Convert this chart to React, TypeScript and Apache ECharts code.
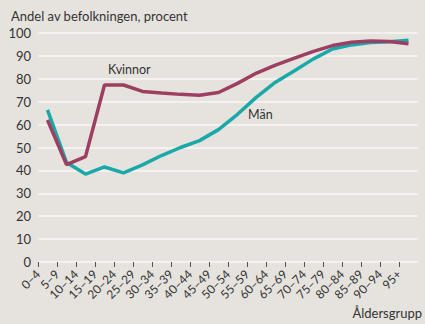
import React, { useEffect, useRef } from "react";
import * as echarts from "echarts";

const categories = ["0–4", "5–9", "10–14", "15–19", "20–24", "25–29", "30–34", "35–39", "40–44", "45–49", "50–54", "55–59", "60–64", "65–69", "70–74", "75–79", "80–84", "85–89", "90–94", "95+"];
const kvinnor = [62, 42.5, 46, 77.3, 77.3, 74.5, 73.8, 73.2, 72.8, 74, 78, 82.5, 86, 89, 92, 94.5, 96, 96.5, 96.3, 95.3];
const man = [66.4, 43.5, 38.4, 41.5, 38.9, 42.4, 46.5, 50, 53, 57.8, 64.5, 72, 78.5, 83.5, 88.7, 93, 94.8, 95.8, 96.2, 96.8];
const yTicks = [0, 10, 20, 30, 40, 50, 60, 70, 80, 90, 100];

const FONT = "Lato, 'Noto Sans', sans-serif";
const TEXT = "#333333";

export default function App() {
  const ref = useRef<HTMLDivElement>(null);
  useEffect(() => {
    if (!ref.current) return;
    const chart = echarts.init(ref.current, undefined, { renderer: "svg" });
    const idx = categories.map((_, i) => i);
    chart.setOption({
      animation: false,
      backgroundColor: "#e6e3df",
      textStyle: { fontFamily: FONT },
      title: {
        text: "Andel av befolkningen, procent",
        left: 11,
        top: 9,
        padding: 0,
        textStyle: { fontFamily: FONT, fontSize: 13, lineHeight: 14, fontWeight: "normal", color: TEXT },
      },
      grid: { left: 38, right: 7, top: 33, bottom: 62 },
      xAxis: {
        type: "value",
        min: 0,
        max: 20,
        interval: 1,
        axisLine: { show: false },
        splitLine: { show: false },
        axisTick: { show: true, customValues: idx, length: 5, lineStyle: { color: "#555", width: 1 } },
        axisLabel: {
          customValues: idx,
          rotate: 45,
          margin: 10,
          fontFamily: FONT,
          fontSize: 12,
          color: TEXT,
          formatter: (v: number) => categories[Math.round(v)] ?? "",
        },
      },
      yAxis: {
        type: "value",
        min: yTicks[0],
        max: yTicks[yTicks.length - 1],
        interval: 10,
        axisLine: { show: false },
        axisTick: { show: false },
        axisLabel: { margin: 7, fontFamily: FONT, fontSize: 13, color: TEXT },
        splitLine: { lineStyle: { color: "#f4f2ef", width: 2 } },
      },
      series: [
        {
          name: "Män",
          type: "line",
          data: man.map((v, i) => [i + 0.5, v]),
          showSymbol: false,
          lineStyle: { color: "#1aa8a8", width: 3.5 },
          itemStyle: { color: "#1aa8a8" },
        },
        {
          name: "Kvinnor",
          type: "line",
          data: kvinnor.map((v, i) => [i + 0.5, v]),
          showSymbol: false,
          lineStyle: { color: "#9c3f62", width: 3.5 },
          itemStyle: { color: "#9c3f62" },
        },
      ],
      graphic: [
        { type: "text", left: 108, top: 63, style: { text: "Kvinnor", font: `12.5px ${FONT}`, fill: TEXT } },
        { type: "text", left: 248, top: 108, style: { text: "Män", font: `12.5px ${FONT}`, fill: TEXT } },
        { type: "text", right: 3, top: 306, style: { text: "Åldersgrupp", font: `13px ${FONT}`, fill: TEXT } },
      ],
    });
    return () => chart.dispose();
  }, []);
  return <div ref={ref} style={{ position: "fixed", left: 0, top: 0, width: 425, height: 324 }} />;
}
